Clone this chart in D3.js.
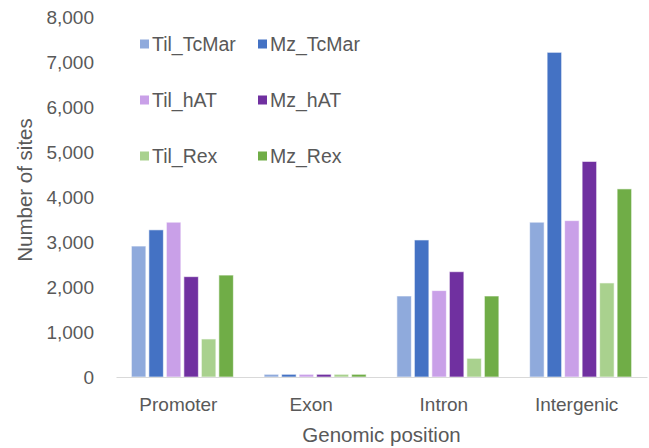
<!DOCTYPE html>
<html>
<head>
<meta charset="utf-8">
<script src="https://cdn.jsdelivr.net/npm/d3@7"></script>
<style>
  html, body { margin: 0; padding: 0; background: #ffffff; }
  svg { display: block; }
  text { font-family: "Liberation Sans", Arial, sans-serif; fill: #595959; }
</style>
</head>
<body>
<svg id="chart" width="649" height="448"></svg>
<script>
// Genomic positions along the x axis
const categories = ["Promoter", "Exon", "Intron", "Intergenic"];

// Transposon families per strain
const seriesNames = ["Til_TcMar", "Mz_TcMar", "Til_hAT", "Mz_hAT", "Til_Rex", "Mz_Rex"];
const seriesColors = ["#8faadc", "#4472c4", "#c9a0e8", "#7030a0", "#a9d18e", "#70ad47"];

// Number of sites per genomic position, one array per series
const tilTcMar = [2910, 60, 1800, 3440];
const mzTcMar  = [3270, 60, 3045, 7215];
const tilHAT   = [3440, 60, 1920, 3475];
const mzHAT    = [2230, 60, 2340, 4790];
const tilRex   = [845,  60, 415,  2090];
const mzRex    = [2265, 60, 1800, 4180];
const seriesValues = [tilTcMar, mzTcMar, tilHAT, mzHAT, tilRex, mzRex];

// Y axis ticks
const yTicks = [0, 1000, 2000, 3000, 4000, 5000, 6000, 7000, 8000];

const svg = d3.select("#chart");
const plotLeft = 116, plotRight = 647, plotTop = 17, plotBottom = 377;

const x0 = d3.scaleBand().domain(categories).range([plotLeft, plotRight])
  .paddingInner(0.2316).paddingOuter(0.1158);
const x1 = d3.scaleBand().domain(seriesNames).range([0, x0.bandwidth()])
  .paddingInner(0.171).paddingOuter(0);
const y = d3.scaleLinear().domain([0, 8000]).range([plotBottom, plotTop]);

// Bars
const groups = svg.append("g").selectAll("g")
  .data(categories)
  .join("g")
  .attr("transform", d => `translate(${x0(d)},0)`);

groups.selectAll("rect")
  .data((c, ci) => seriesNames.map((s, si) => ({ s, si, v: seriesValues[si][ci] })))
  .join("rect")
  .attr("x", d => x1(d.s))
  .attr("y", d => y(d.v))
  .attr("width", x1.bandwidth())
  .attr("height", d => y(0) - y(d.v))
  .attr("fill", d => seriesColors[d.si])
  .attr("stroke", "#ffffff")
  .attr("stroke-opacity", 0.6)
  .attr("stroke-width", 1);

// Category axis (baseline + labels)
const xAxis = svg.append("g")
  .attr("transform", `translate(0,${plotBottom})`)
  .call(d3.axisBottom(x0).tickSize(0).tickPadding(21));
xAxis.select(".domain").attr("stroke", "#d9d9d9").attr("stroke-width", 1.2);
xAxis.selectAll("text")
  .attr("font-size", 19)
  .attr("dx", -4)
  .style("font-family", "'Liberation Sans', Arial, sans-serif")
  .attr("fill", "#595959");

// Value axis (labels only)
const yAxis = svg.append("g")
  .attr("transform", `translate(${plotLeft},0)`)
  .call(d3.axisLeft(y).tickValues(yTicks).tickFormat(d3.format(",")).tickSize(0).tickPadding(22));
yAxis.select(".domain").remove();
yAxis.selectAll("text")
  .attr("font-size", 19)
  .style("font-family", "'Liberation Sans', Arial, sans-serif")
  .attr("fill", "#595959");

// Axis titles
svg.append("text")
  .attr("x", (plotLeft + plotRight) / 2)
  .attr("y", 442)
  .attr("text-anchor", "middle")
  .attr("font-size", 20.5)
  .text("Genomic position");

svg.append("text")
  .attr("transform", "translate(32,190) rotate(-90)")
  .attr("text-anchor", "middle")
  .attr("font-size", 20.5)
  .text("Number of sites");

// Legend: two columns, three rows
const legend = svg.append("g");
const legItems = legend.selectAll("g")
  .data(seriesNames)
  .join("g")
  .attr("transform", (d, i) => `translate(${i % 2 === 0 ? 140 : 258},${44 + Math.floor(i / 2) * 56})`);
legItems.append("rect")
  .attr("x", 0).attr("y", -4.5)
  .attr("width", 9).attr("height", 9)
  .attr("fill", (d, i) => seriesColors[i]);
legItems.append("text")
  .attr("x", 12)
  .attr("y", 0)
  .attr("dy", "0.35em")
  .attr("font-size", 19.5)
  .text(d => d);
</script>
</body>
</html>
